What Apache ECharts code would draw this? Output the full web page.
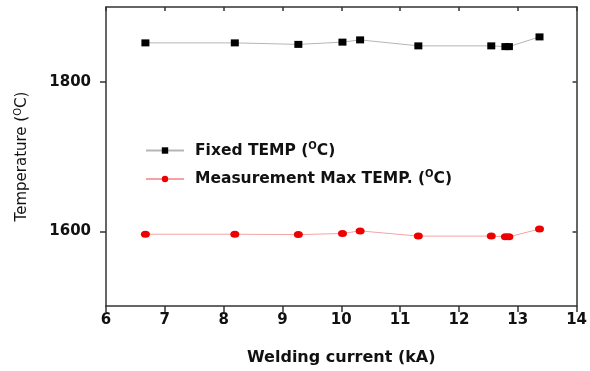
<!DOCTYPE html>
<html><head><meta charset="utf-8">
<script src="https://cdn.jsdelivr.net/npm/echarts@6/dist/echarts.min.js"></script>
<style>html,body{margin:0;padding:0;background:#fff}#c{width:590px;height:371px}</style>
</head><body><div id="c"></div>
<script>
const current = [6.67, 8.19, 9.27, 10.02, 10.32, 11.31, 12.55, 12.79, 12.85, 13.37];
const fixedTemp = [1852, 1852, 1850, 1853, 1856, 1848, 1848, 1847, 1847, 1860];
const measuredTemp = [1596, 1596, 1595.5, 1597, 1600.5, 1593.5, 1593.5, 1592.5, 1592.5, 1603];
const xTicks = [6, 7, 8, 9, 10, 11, 12, 13, 14];
const yTicks = [1600, 1800];

const F = '"DejaVu Sans", Verdana, sans-serif';
const chart = echarts.init(document.getElementById('c'));
const pair = (xs, ys) => xs.map((x, i) => [x, ys[i]]);
const richSup = {
  a: {fontFamily: F, fontWeight: 'bold', fontSize: 15.5, color: '#111'},
  s: {fontFamily: F, fontWeight: 'bold', fontSize: 10, color: '#111', verticalAlign: 'bottom', padding: [0, 0, 9, 0]}
};
const axisCol = '#333';
chart.setOption({
  animation: false,
  grid: {left: 106, right: 11, top: 7, bottom: 65},
  legend: {
    orient: 'vertical', left: 145, top: 141, padding: 0, itemGap: 11, itemWidth: 38, itemHeight: 8,
    data: ['fixed', 'meas'],
    formatter: n => n === 'fixed' ? '{a|Fixed TEMP (}{s|O}{a|C)}' : '{a|Measurement Max TEMP. (}{s|O}{a|C)}',
    textStyle: {rich: richSup, padding: [0, 0, 0, 6]}
  },
  xAxis: [{
    type: 'value', min: xTicks[0], max: xTicks[xTicks.length - 1], interval: 1,
    name: 'Welding current (kA)', nameLocation: 'middle', nameGap: 44,
    nameTextStyle: {fontFamily: F, fontWeight: 'bold', fontSize: 16, color: '#111'},
    axisLine: {lineStyle: {color: axisCol, width: 1.5}},
    axisTick: {inside: false, length: 6, lineStyle: {color: axisCol, width: 1.5}},
    axisLabel: {fontFamily: F, fontWeight: 'bold', fontSize: 15, color: '#111', margin: 7},
    splitLine: {show: false}
  }, {
    type: 'value', position: 'top', min: xTicks[0], max: xTicks[xTicks.length - 1], interval: 1,
    axisLine: {lineStyle: {color: axisCol, width: 1.5}},
    axisTick: {inside: true, length: 4, lineStyle: {color: axisCol, width: 1.5}},
    axisLabel: {show: false}, splitLine: {show: false}
  }],
  yAxis: [{
    type: 'value', min: 1500, max: 1900, interval: 100,
    name: '{t|Temperature (}{s|O}{t|C)}', nameLocation: 'middle', nameGap: 74,
    nameTextStyle: {rich: {
      t: {fontFamily: F, fontSize: 15, color: '#111'},
      s: {fontFamily: F, fontSize: 10, color: '#111', verticalAlign: 'bottom', padding: [0, 0, 9, 0]}
    }},
    axisLine: {lineStyle: {color: axisCol, width: 1.5}},
    axisTick: {inside: false, length: 6, customValues: yTicks, lineStyle: {color: axisCol, width: 1.5}},
    axisLabel: {fontFamily: F, fontWeight: 'bold', fontSize: 15, color: '#111', margin: 15,
      customValues: yTicks, formatter: v => String(v)},
    splitLine: {show: false}
  }, {
    type: 'value', position: 'right', min: 1500, max: 1900, interval: 100,
    axisLine: {lineStyle: {color: axisCol, width: 1.5}},
    axisTick: {inside: true, length: 4, customValues: yTicks, lineStyle: {color: axisCol, width: 1.5}},
    axisLabel: {show: false}, splitLine: {show: false}
  }],
  series: [{
    name: 'fixed', type: 'line', data: pair(current, fixedTemp),
    symbol: 'rect', symbolSize: [8, 7],
    lineStyle: {color: '#b5b5b5', width: 1},
    itemStyle: {color: '#000'}
  }, {
    name: 'meas', type: 'line', data: pair(current, measuredTemp),
    symbol: 'circle', symbolSize: [9, 7],
    lineStyle: {color: '#f3a3a3', width: 1},
    itemStyle: {color: '#ee0000'}
  }]
});
</script></body></html>
